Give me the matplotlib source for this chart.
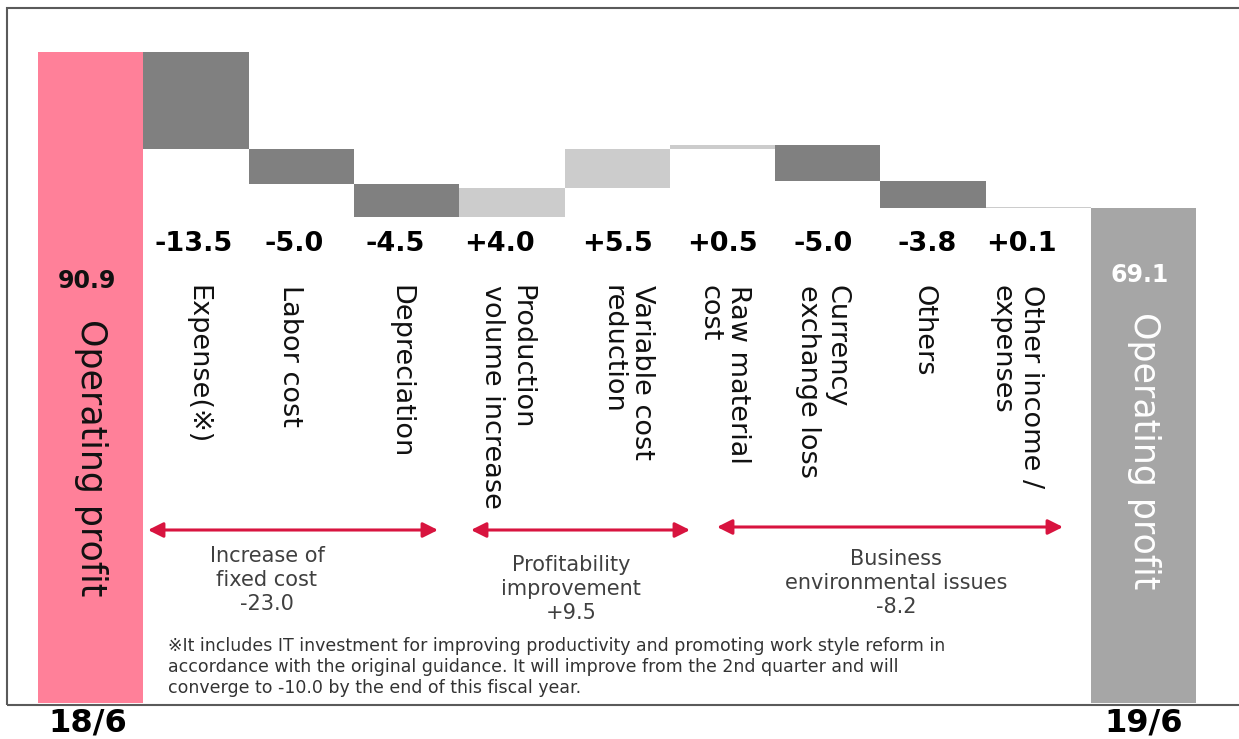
import numpy as np
import matplotlib
matplotlib.use("Agg")
import matplotlib.pyplot as plt
from matplotlib.patches import Rectangle, FancyArrowPatch
from matplotlib.transforms import blended_transform_factory

# ---------------- data ----------------
start_label = "18/6"
end_label = "19/6"
start_value = 90.9
end_value = 69.1
total_name = "Operating profit"
categories = ["Expense(※)", "Labor cost", "Depreciation",
              "Production\nvolume increase", "Variable cost\nreduction",
              "Raw material\ncost", "Currency\nexchange loss", "Others",
              "Other income /\nexpenses"]
deltas = [-13.5, -5.0, -4.5, 4.0, 5.5, 0.5, -5.0, -3.8, 0.1]
delta_labels = ["-13.5", "-5.0", "-4.5", "+4.0", "+5.5", "+0.5", "-5.0", "-3.8", "+0.1"]
group_labels = ["Increase of\nfixed cost\n-23.0",
                "Profitability\nimprovement\n+9.5",
                "Business\nenvironmental issues\n-8.2"]
footnote = ("※It includes IT investment for improving productivity and promoting work style reform in\n"
            "accordance with the original guidance. It will improve from the 2nd quarter and will\n"
            "converge to -10.0 by the end of this fiscal year.")

# ---------------- layout ----------------
W, H = 1239, 739
fig = plt.figure(figsize=(W / 100, H / 100), dpi=100)
ax = fig.add_axes([0, 0, 1, 1])
x0_px, pitch_px = 38.0, 105.3
zero_px, scale_px = 703.0, 7.162
ax.set_xlim(-0.5 - x0_px / pitch_px, -0.5 + (W - x0_px) / pitch_px)
ax.set_ylim(-(H - zero_px) / scale_px, zero_px / scale_px)
ax.axis("off")

def fy(py):
    return 1 - py / H

def fx(px):
    return px / W

bx = blended_transform_factory(ax.transData, fig.transFigure)

# frame
fig.patches.append(Rectangle((fx(7), fy(705)), fx(1250) - fx(7), fy(8) - fy(705),
                             transform=fig.transFigure, fill=False,
                             edgecolor="#5a5a5a", linewidth=1.5, zorder=0))

# ---------------- bars ----------------
n = len(deltas)
deltas_a = np.array(deltas)
cum_end = start_value + np.cumsum(deltas_a)
cum_start = np.concatenate([[start_value], cum_end[:-1]])
bottoms = np.minimum(cum_start, cum_end)
heights = np.abs(deltas_a)
step_colors = ["#808080" if d < 0 else "#cccccc" for d in deltas]

xs = np.arange(n + 2)
ax.bar(xs[0], start_value, width=1.0, color="#ff8099", linewidth=0, zorder=2)
ax.bar(xs[1:n + 1], heights, bottom=bottoms, width=1.0, color=step_colors,
       linewidth=0, zorder=2)
ax.bar(xs[-1], end_value, width=1.0, color="#a6a6a6", linewidth=0, zorder=2)

# value labels for steps
val_dx = [-2, -7.5, -11.5, -12, 0, -0.5, -4.5, -6, -16.5]
for i, lab in enumerate(delta_labels):
    ax.text(xs[i + 1] + val_dx[i] / pitch_px, fy(244), lab, transform=bx,
            ha="center", va="center", fontsize=19.5, fontweight="bold",
            color="black")

# category labels (rotated)
cat_dx = [1.5, -11, -6, -5, 10, 1.5, -5.5, -10, -22]
for i, lab in enumerate(categories):
    ax.text(xs[i + 1] + cat_dx[i] / pitch_px, fy(285), lab, transform=bx,
            ha="center", va="top", rotation=-90, fontsize=19.5,
            color="#111111", linespacing=1.15, multialignment="left")

# total bars text
ax.text(xs[0] - 4 / pitch_px, fy(281), f"{start_value:.1f}", transform=bx,
        ha="center", va="center", fontsize=17, fontweight="bold", color="#111111")
ax.text(xs[0], fy(319), total_name, transform=bx, ha="center", va="top",
        rotation=-90, fontsize=25, color="#111111")
ax.text(xs[-1] - 4 / pitch_px, fy(275), f"{end_value:.1f}", transform=bx,
        ha="center", va="center", fontsize=17, fontweight="bold", color="white")
ax.text(xs[-1], fy(312), total_name, transform=bx, ha="center", va="top",
        rotation=-90, fontsize=25, color="white")

# period labels
ax.text(xs[0] - 3 / pitch_px, fy(723), start_label, transform=bx, ha="center",
        va="center", fontsize=23, fontweight="bold", color="black")
ax.text(xs[-1], fy(723), end_label, transform=bx, ha="center",
        va="center", fontsize=23, fontweight="bold", color="black")

# group arrows and labels
arrow_px = [(148, 438, 530), (471, 690, 530), (717, 1063, 527)]
group_cx = [267, 571, 896]
group_top = [546, 555, 549]
for (a, b, y), cx, ty, lab in zip(arrow_px, group_cx, group_top, group_labels):
    fig.patches.append(FancyArrowPatch((fx(a), fy(y)), (fx(b), fy(y)),
                                       transform=fig.transFigure,
                                       arrowstyle="<|-|>,head_length=9,head_width=4.5",
                                       color="#d8143f", linewidth=2.2,
                                       shrinkA=0, shrinkB=0, zorder=3))
    fig.text(fx(cx), fy(ty), lab, ha="center", va="top", fontsize=15,
             color="#404040", linespacing=1.25)

# footnote
fig.text(fx(168), fy(637), footnote, ha="left", va="top", fontsize=12.5,
         color="#333333", linespacing=1.2)

fig.savefig("out.png", dpi=100)
